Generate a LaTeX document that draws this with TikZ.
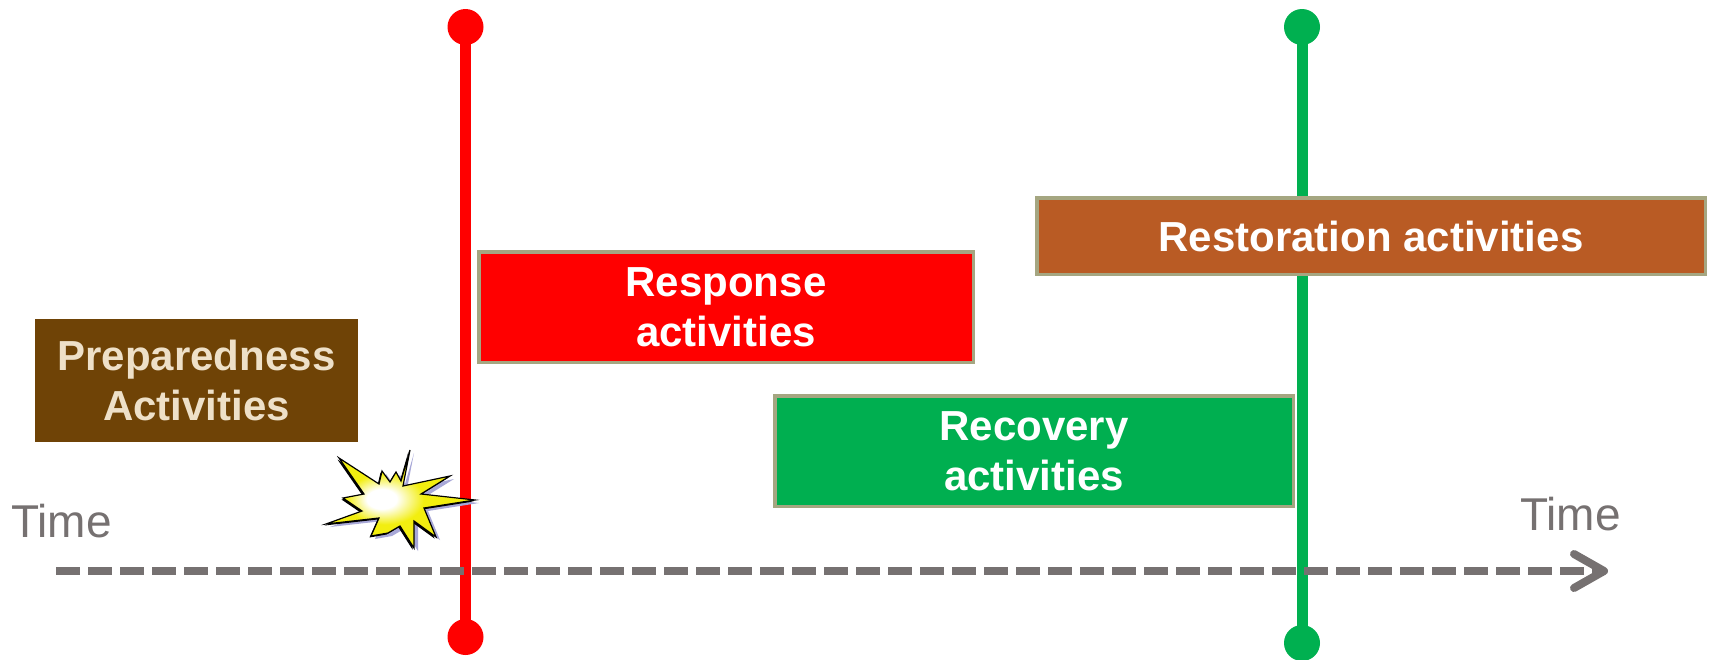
\documentclass[tikz,border=0pt]{standalone}
\usepackage{fontspec}
\setmainfont{Liberation Sans}
\usetikzlibrary{arrows.meta}
\definecolor{prepbrown}{HTML}{6F4306}
\definecolor{prepcream}{HTML}{EEE0C8}
\definecolor{respred}{HTML}{FF0000}
\definecolor{recgreen}{HTML}{00AF50}
\definecolor{linegreen}{HTML}{00B050}
\definecolor{restbrown}{HTML}{B95B24}
\definecolor{boxedge}{HTML}{A5A681}
\definecolor{timegray}{HTML}{767171}
\definecolor{burstshadow}{HTML}{A8A8D8}
\definecolor{burstyellow}{HTML}{F2EE10}
\pgfdeclareradialshading{burstshade}{\pgfpoint{-7bp}{0bp}}{color(0bp)=(white); color(5bp)=(white); color(13bp)=(burstyellow); color(50bp)=(burstyellow)}
\begin{document}
\begin{tikzpicture}[x=1pt,y=-1pt,
  actbox/.style={rectangle, inner sep=0pt, align=center, text=white,
    font=\fontsize{42}{50}\selectfont\bfseries, draw=boxedge, line width=3.5pt},
  timelabel/.style={inner sep=0pt, anchor=base west, text=timegray,
    font=\fontsize{46}{52}\selectfont},
  enddot/.style={circle, inner sep=0pt, minimum size=36pt},
  phase/.style={line width=11pt},
  axis/.style={draw=timegray, line width=8pt, dash pattern=on 24pt off 8pt,
    -{Straight Barb[length=30pt, width=34pt, line cap=round, line join=round]}},
]
\useasboundingbox (0,0) rectangle (1717,659);
\fill[white] (0,0) rectangle (1717,659);

% vertical phase lines
\node[enddot, fill=respred] (rtop) at (465.5,27) {};
\node[enddot, fill=respred] (rbot) at (465.5,637) {};
\draw[phase, draw=respred] (rtop.center) -- (rbot.center);
\node[enddot, fill=linegreen] (gtop) at (1302,27) {};
\node[enddot, fill=linegreen] (gbot) at (1302,643) {};
\draw[phase, draw=linegreen] (gtop.center) -- (gbot.center);

% time axis
\coordinate (axstart) at (56,571);
\coordinate (axend) at (1608,571);
\draw[axis] (axstart) -- (axend);

% activity boxes
\node[actbox, fill=prepbrown, draw=none, text=prepcream,
  minimum width=323pt, minimum height=123pt] (prep) at (196.5,380.5) {Preparedness\\Activities};
\node[actbox, fill=respred, minimum width=494.5pt, minimum height=110.5pt]
  (resp) at (726,307) {Response\\activities};
\node[actbox, fill=recgreen, minimum width=518.5pt, minimum height=110.5pt]
  (reco) at (1034,451) {Recovery\\activities};
\node[actbox, fill=restbrown, minimum width=668.5pt, minimum height=76.5pt]
  (rest) at (1371,236) {Restoration activities};

% explosion
\def\burst{(410,450) -- (403,486) -- (450,476) -- (421,494) -- (475,500) -- (424,508)
  -- (436,537) -- (414,521) -- (414,548) -- (400,526) -- (388,533) -- (371,536)
  -- (379,518) -- (326,524) -- (362,511) -- (343,498) -- (364,494) -- (339,458)
  -- (379,484) -- (382,471) -- (390,482) -- (396,472) -- (401,481) -- cycle}
\fill[burstshadow, shift={(4,3)}] \burst;
\fill[black, shift={(-1.5,1.5)}] \burst;
\shadedraw[draw=black, line width=1.2pt, line join=miter, shading=burstshade] \burst;

% time labels
\node[timelabel] (tleft) at (11,537) {Time};
\node[timelabel] (tright) at (1520,530) {Time};
\end{tikzpicture}
\end{document}
